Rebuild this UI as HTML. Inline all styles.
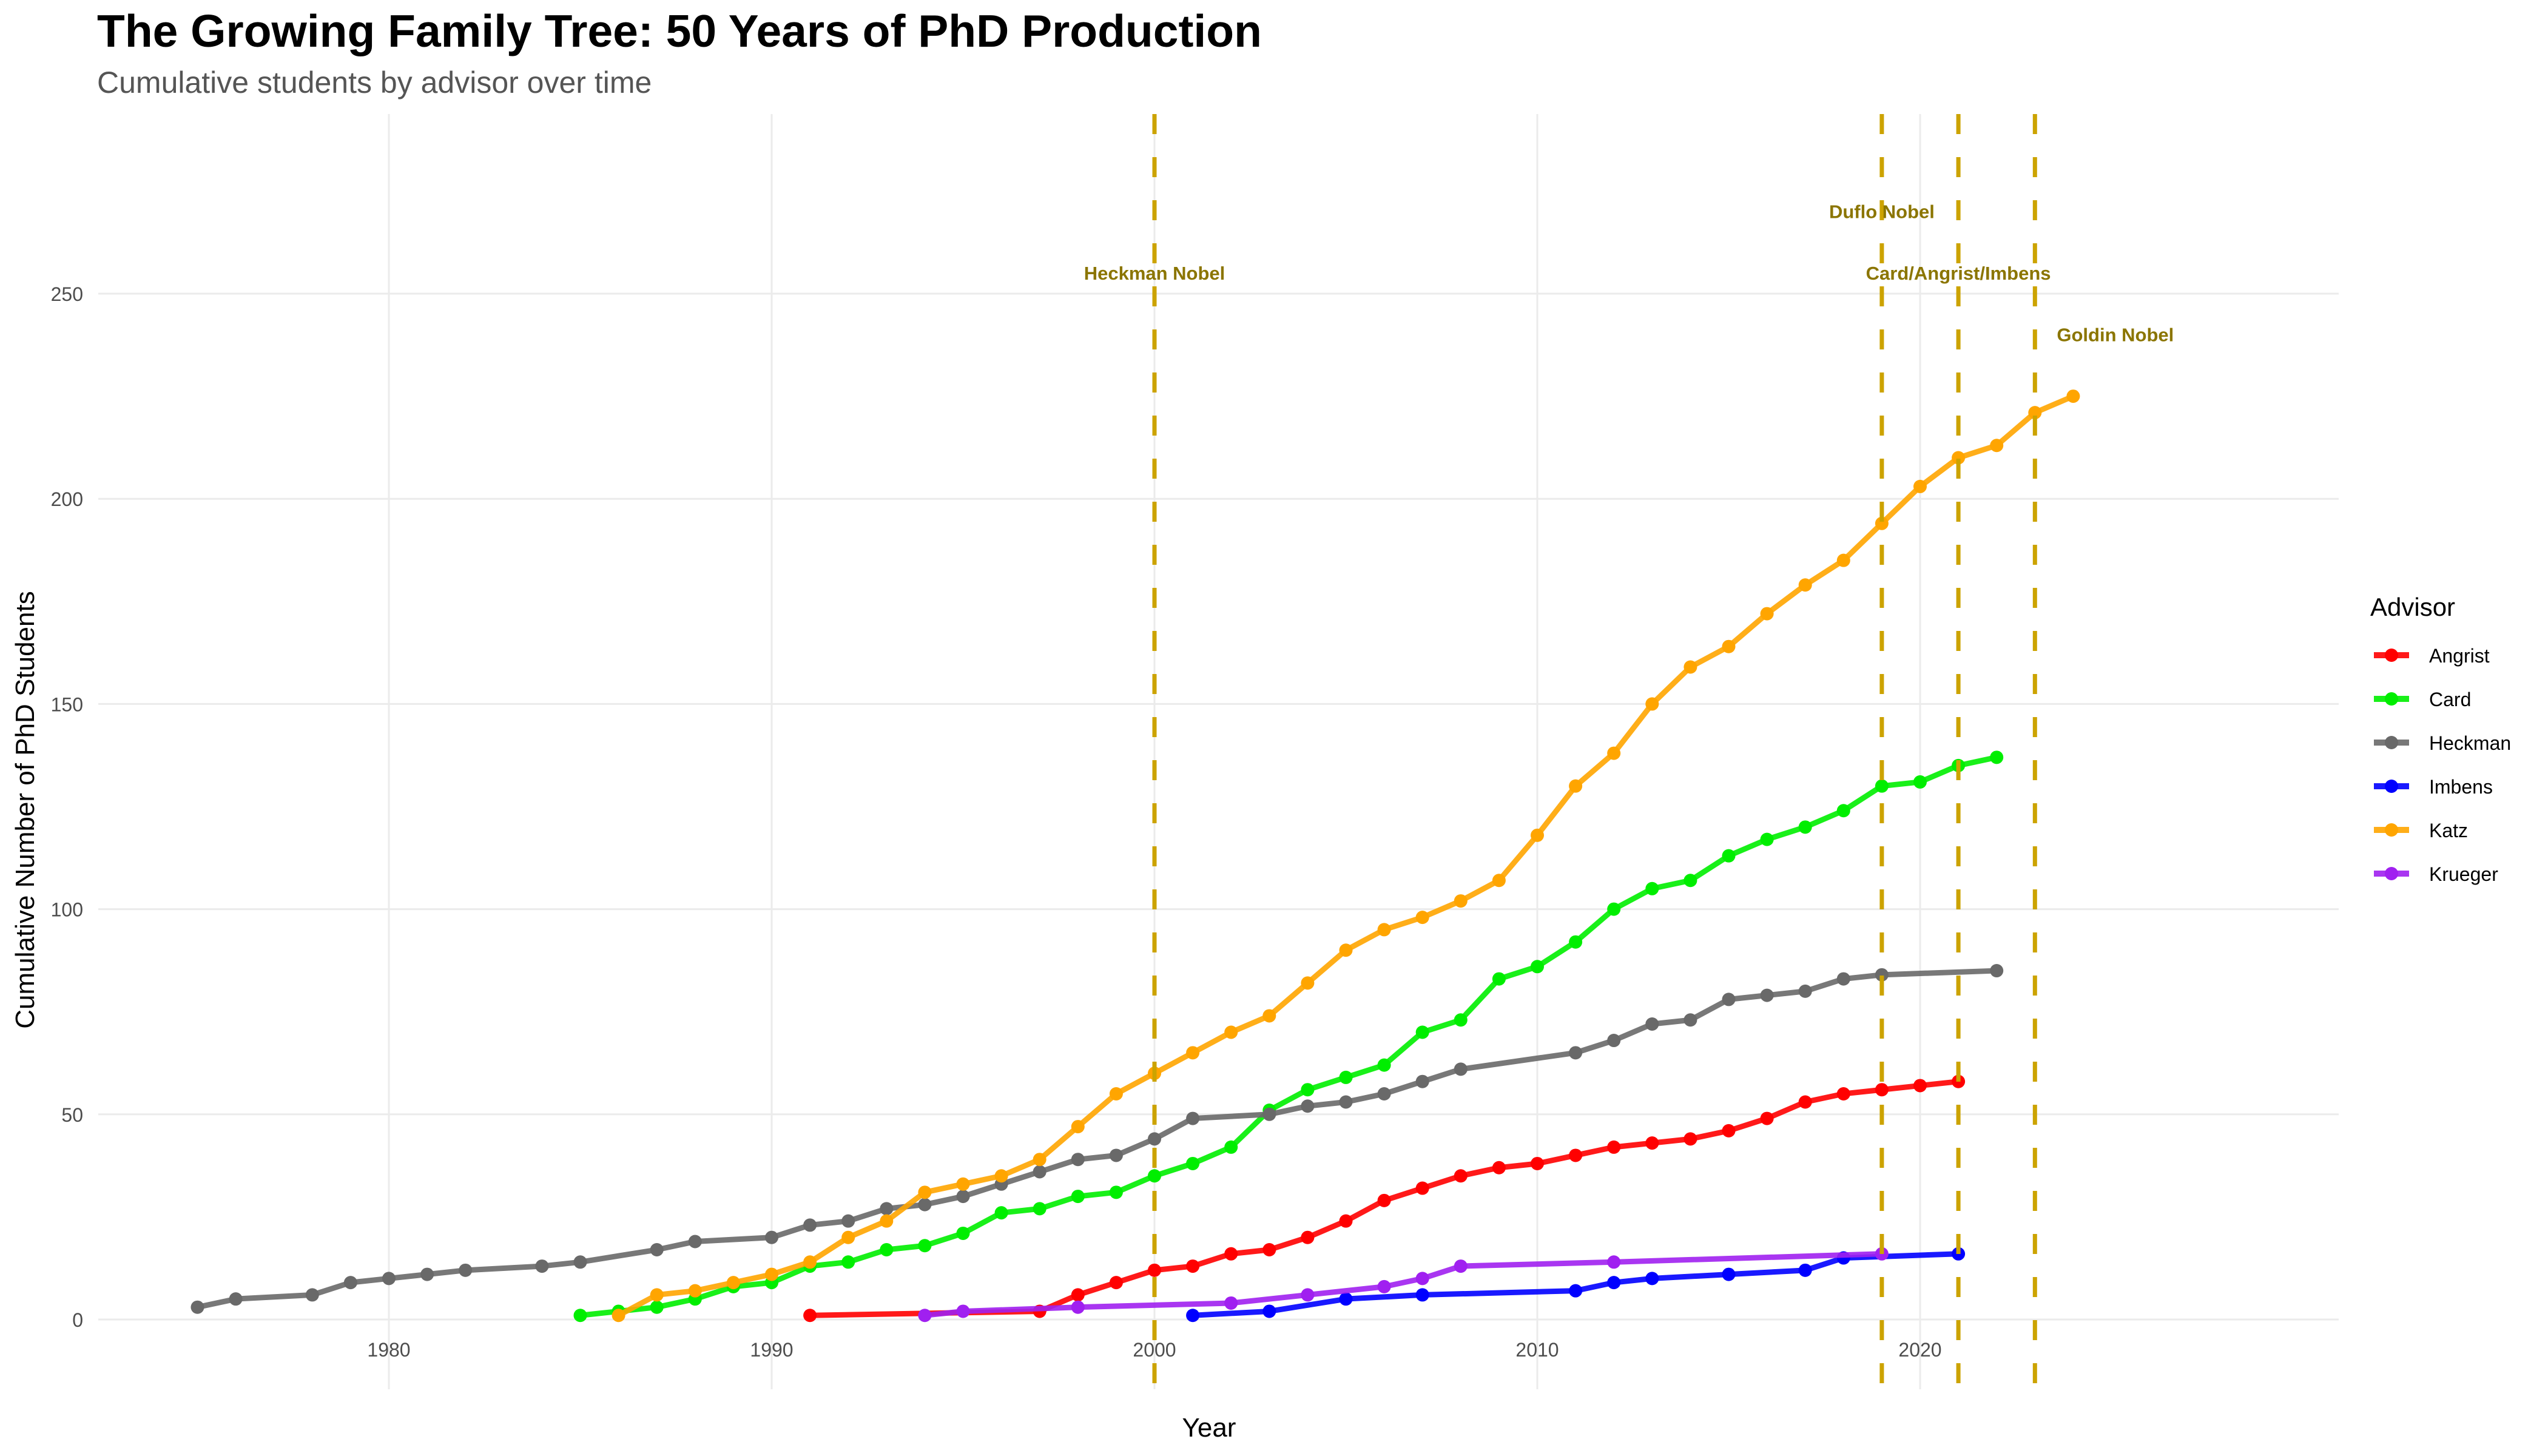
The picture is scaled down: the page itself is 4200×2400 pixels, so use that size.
<!DOCTYPE html>
<html><head><meta charset="utf-8">
<style>
html,body{margin:0;padding:0;background:#fff;}
svg{display:block;font-family:"Liberation Sans",Arial,sans-serif;}
</style></head>
<body>
<svg id="chart" width="4200" height="2400" viewBox="0 0 4200 2400" xmlns="http://www.w3.org/2000/svg">
<rect x="0" y="0" width="4200" height="2400" fill="#fff"/>
<text x="160" y="77" font-size="75" font-weight="bold" fill="#000">The Growing Family Tree: 50 Years of PhD Production</text>
<text x="160" y="153" font-size="50" fill="#555">Cumulative students by advisor over time</text>
<g id="grid"></g>
<g id="axes"></g>
<g id="series"></g>
<g id="events"></g>
<text x="1993" y="2368" font-size="44" text-anchor="middle" fill="#000">Year</text>
<text transform="translate(56,1335) rotate(-90)" font-size="44" text-anchor="middle" fill="#000">Cumulative Number of PhD Students</text>
<g id="legend">
<text x="3907" y="1015" font-size="42" fill="#000">Advisor</text>
</g>
</svg>
<script>
const advisors = ["Angrist","Card","Heckman","Imbens","Katz","Krueger"];
const colors = ["#FF0000","#00EE00","#696969","#0000FF","#FFA500","#A020F0"];
const angristYears = [1991,1997,1998,1999,2000,2001,2002,2003,2004,2005,2006,2007,2008,2009,2010,2011,2012,2013,2014,2015,2016,2017,2018,2019,2020,2021];
const angristVals  = [1,2,6,9,12,13,16,17,20,24,29,32,35,37,38,40,42,43,44,46,49,53,55,56,57,58];
const cardYears = [1985,1986,1987,1988,1989,1990,1991,1992,1993,1994,1995,1996,1997,1998,1999,2000,2001,2002,2003,2004,2005,2006,2007,2008,2009,2010,2011,2012,2013,2014,2015,2016,2017,2018,2019,2020,2021,2022];
const cardVals  = [1,2,3,5,8,9,13,14,17,18,21,26,27,30,31,35,38,42,51,56,59,62,70,73,83,86,92,100,105,107,113,117,120,124,130,131,135,137];
const heckmanYears = [1975,1976,1978,1979,1980,1981,1982,1984,1985,1987,1988,1990,1991,1992,1993,1994,1995,1996,1997,1998,1999,2000,2001,2003,2004,2005,2006,2007,2008,2011,2012,2013,2014,2015,2016,2017,2018,2019,2022];
const heckmanVals  = [3,5,6,9,10,11,12,13,14,17,19,20,23,24,27,28,30,33,36,39,40,44,49,50,52,53,55,58,61,65,68,72,73,78,79,80,83,84,85];
const imbensYears = [2001,2003,2005,2007,2011,2012,2013,2015,2017,2018,2021];
const imbensVals  = [1,2,5,6,7,9,10,11,12,15,16];
const katzYears = [1986,1987,1988,1989,1990,1991,1992,1993,1994,1995,1996,1997,1998,1999,2000,2001,2002,2003,2004,2005,2006,2007,2008,2009,2010,2011,2012,2013,2014,2015,2016,2017,2018,2019,2020,2021,2022,2023,2024];
const katzVals  = [1,6,7,9,11,14,20,24,31,33,35,39,47,55,60,65,70,74,82,90,95,98,102,107,118,130,138,150,159,164,172,179,185,194,203,210,213,221,225];
const kruegerYears = [1994,1995,1998,2002,2004,2006,2007,2008,2012,2019];
const kruegerVals  = [1,2,3,4,6,8,10,13,14,16];
const xTicks = [1980,1990,2000,2010,2020];
const yTicks = [0,50,100,150,200,250];
const eventYears = [2000,2019,2021,2023];
const eventLabels = ["Heckman Nobel","Duflo Nobel","Card/Angrist/Imbens","Goldin Nobel"];
const eventLabelX = [2000,2019,2021,2025.1];
const eventLabelY = [254,269,254,239];

const NS = "http://www.w3.org/2000/svg";
const PL = 162, PR = 3855, PT = 188, PB = 2290;
function xs(y){ return 641 + (y - 1980) * 63.1; }
function ys(v){ return 2175 - v * 6.764; }
function mk(tag, attrs, parent){
  const e = document.createElementNS(NS, tag);
  for (const k in attrs) e.setAttribute(k, attrs[k]);
  parent.appendChild(e); return e;
}
const grid = document.getElementById('grid');
const axes = document.getElementById('axes');
yTicks.forEach(t => {
  const l = mk('line', {x1:PL, x2:PR, y1:ys(t), y2:ys(t), stroke:'#ebebeb', 'stroke-width':3}, grid);
  
  
  const tx = mk('text', {x:137, y:ys(t)+12, 'font-size':32, 'text-anchor':'end', fill:'#4d4d4d'}, axes);
  tx.textContent = t;
  
  
});
xTicks.forEach(t => {
  const l = mk('line', {x1:xs(t), x2:xs(t), y1:PT, y2:PB, stroke:'#ebebeb', 'stroke-width':3}, grid);
  
  
  const tx = mk('text', {x:xs(t), y:2236, 'font-size':32, 'text-anchor':'middle', fill:'#4d4d4d'}, axes);
  tx.textContent = t;
  
  
});
const seriesData = [[angristYears,angristVals],[cardYears,cardVals],[heckmanYears,heckmanVals],[imbensYears,imbensVals],[katzYears,katzVals],[kruegerYears,kruegerVals]];
const sg = document.getElementById('series');
seriesData.forEach((s, i) => {
  const g = mk('g', {}, sg);
  
  
  const pts = s[0].map((y, j) => xs(y) + ',' + ys(s[1][j])).join(' ');
  const pl = mk('polyline', {points:pts, fill:'none', stroke:colors[i], 'stroke-width':9, 'stroke-linejoin':'round', 'stroke-opacity':0.9}, g);
  
  
  s[0].forEach((y, j) => {
    const c = mk('circle', {cx:xs(y), cy:ys(s[1][j]), r:11, fill:colors[i]}, g);
    
    
  });
});
const ev = document.getElementById('events');
eventYears.forEach((y, i) => {
  const l = mk('line', {x1:xs(y), x2:xs(y), y1:PT, y2:PB, stroke:'#CCA300', 'stroke-width':7, 'stroke-dasharray':'33 38'}, ev);
  
  
  const t = mk('text', {x:xs(eventLabelX[i]), y:ys(eventLabelY[i]) + 4, 'font-size':31, 'font-weight':'bold', 'text-anchor':'middle', fill:'#8B7500'}, ev);
  t.textContent = eventLabels[i];
  
  
});
const lg = document.getElementById('legend');
advisors.forEach((a, i) => {
  const y = 1080 + i * 72;
  const g = mk('g', {}, lg);
  
  
  mk('line', {x1:3913, x2:3971, y1:y, y2:y, stroke:colors[i], 'stroke-width':10, 'stroke-opacity':0.9}, g);
  mk('circle', {cx:3942, cy:y, r:11, fill:colors[i]}, g);
  const t = mk('text', {x:4004, y:y+12, 'font-size':32, fill:'#000'}, g);
  t.textContent = a;
});
</script>
</body></html>
